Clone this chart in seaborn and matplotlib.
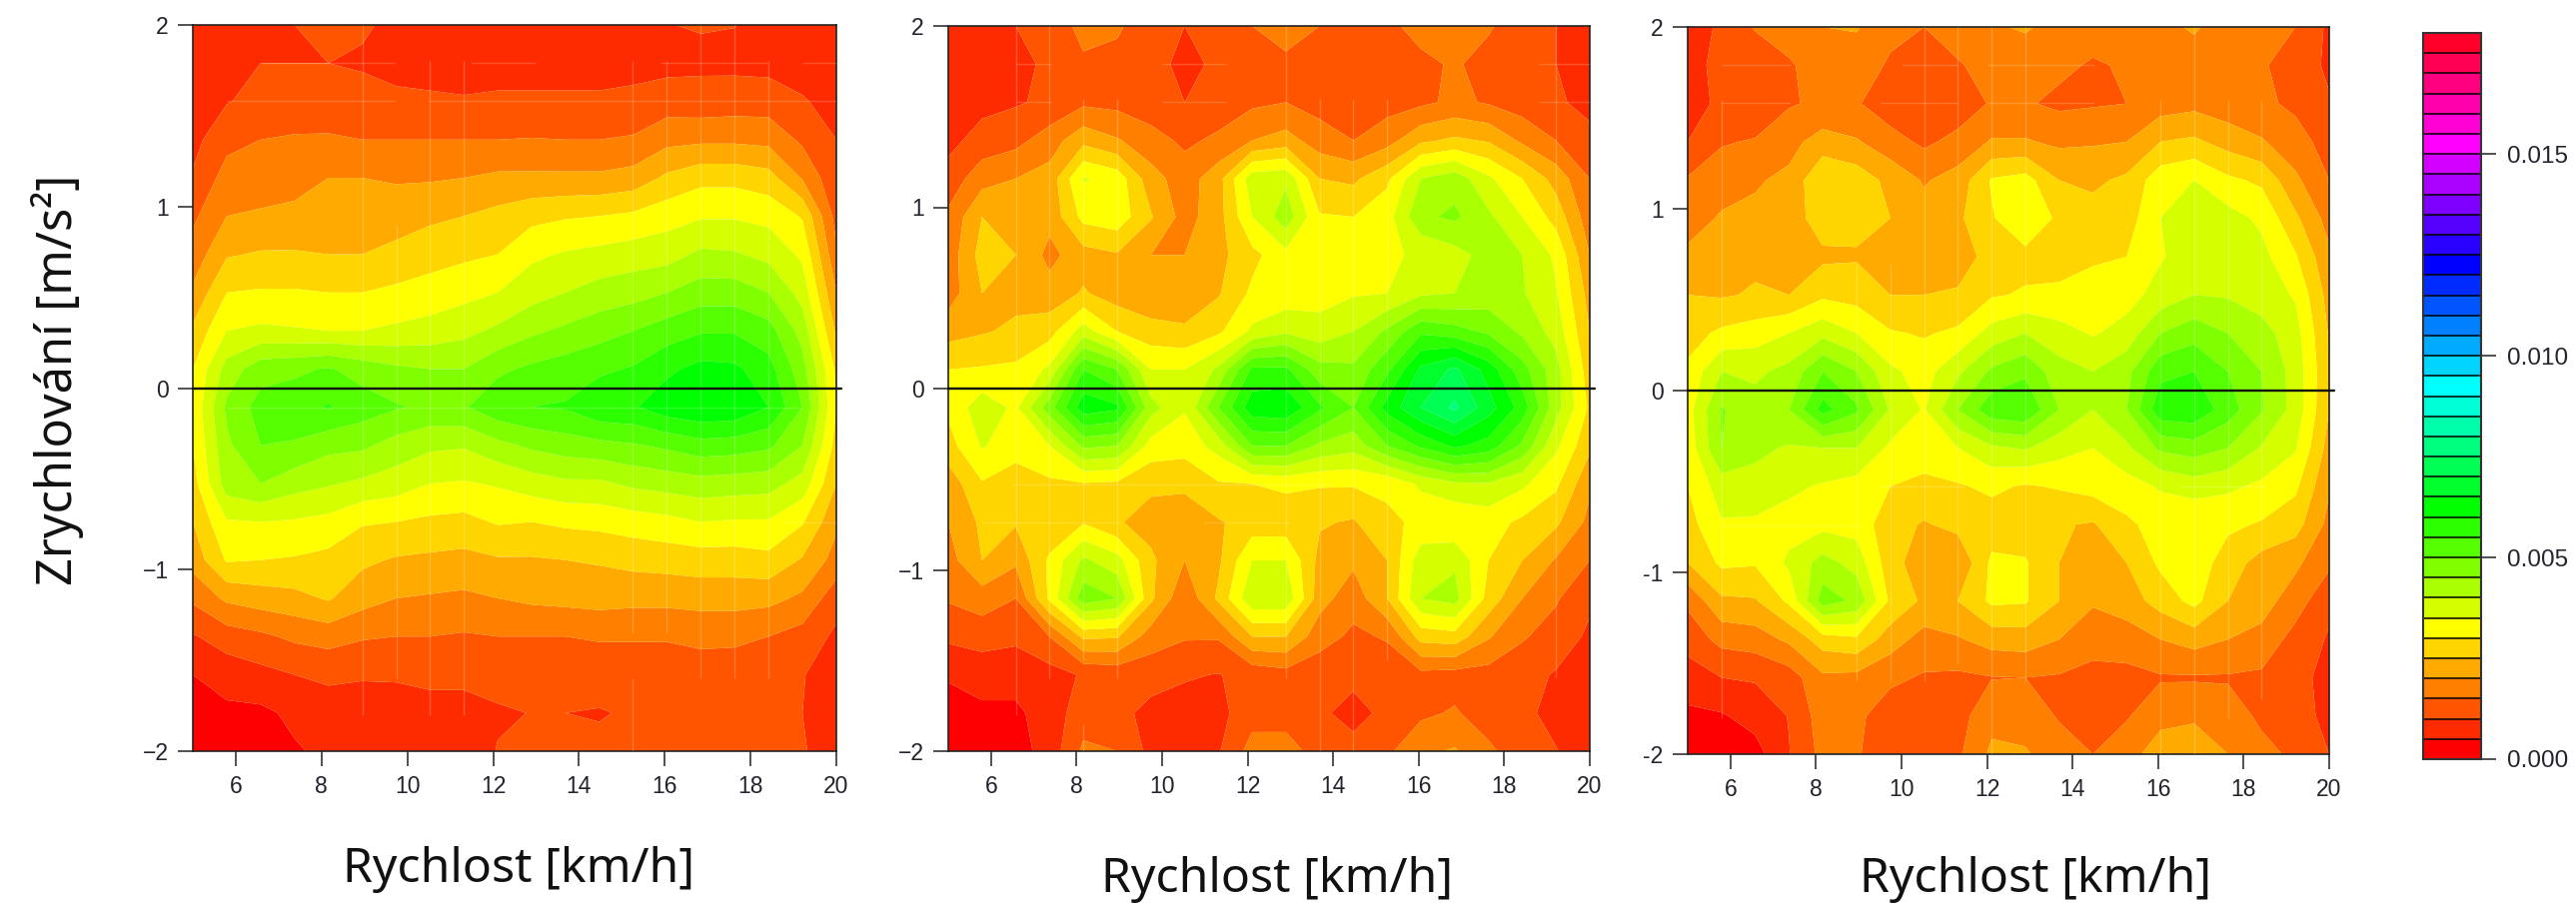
import numpy as np
import matplotlib
matplotlib.use("Agg")
import matplotlib.pyplot as plt
import seaborn as sns

sns.set_theme(style="ticks")
plt.rcParams["font.family"] = ["Liberation Sans", "DejaVu Sans"]

W, H = 2578, 906
speed = np.linspace(5, 20, 20)
accel = np.linspace(-2, 2, 20)

# values in units of 1e-3; each inner list is one row of constant acceleration, from +2 down to -2
density_1 = [
 [.7,.7,.8,1.0,1.1,1.06,.9,.8,.7,.7,.7,.7,.7,.8,.99,1.03,1.01,.85,.7,.6],
 [.6,.7,1.0,1.0,1.0,.94,.85,.8,.75,.75,.75,.75,.75,.8,.85,.9,.88,.85,.75,.6],
 [.7,.97,1.15,1.2,1.25,1.2,1.1,1.08,1.05,1.1,1.1,1.1,1.1,1.15,1.25,1.2,1.25,1.25,1.05,.8],
 [.85,1.35,1.5,1.55,1.55,1.5,1.5,1.5,1.5,1.5,1.52,1.5,1.5,1.55,1.85,1.9,1.9,1.85,1.4,1.0],
 [1.05,1.7,1.8,1.85,2.0,2.0,1.95,1.95,2.0,2.1,2.1,2.1,2.1,2.2,2.6,2.85,2.85,2.7,1.95,1.1],
 [1.4,2.0,2.05,2.1,2.2,2.25,2.25,2.4,2.5,2.65,2.85,2.95,3.0,3.1,3.3,3.45,3.45,3.35,2.95,1.3],
 [1.7,2.45,2.55,2.55,2.5,2.5,2.65,2.8,2.9,3.0,3.4,3.55,3.65,3.75,3.8,4.1,4.05,3.85,3.4,1.6],
 [2.1,3.0,3.05,3.05,3.0,3.0,3.1,3.2,3.35,3.5,3.8,4.0,4.2,4.3,4.5,4.75,4.75,4.5,3.8,2.0],
 [2.6,3.5,3.6,3.55,3.5,3.5,3.6,3.7,3.85,4.1,4.4,4.6,4.8,5.0,5.25,5.45,5.45,5.2,4.3,2.4],
 [3.0,4.2,4.8,4.9,5.05,4.8,4.6,4.5,4.5,4.9,5.1,5.25,5.4,5.55,5.9,6.15,6.1,5.7,4.7,2.9],
 [3.1,4.6,5.2,5.3,5.55,5.25,5.05,4.9,4.95,5.35,5.5,5.55,5.9,5.95,6.3,6.45,6.4,6.0,5.0,3.0],
 [3.0,4.4,5.0,4.95,4.65,4.6,4.3,4.1,4.05,4.35,4.6,4.75,4.85,4.95,5.1,5.3,5.25,5.1,4.5,2.8],
 [2.8,4.25,4.5,4.2,4.05,3.9,3.75,3.5,3.45,3.55,3.75,3.9,3.9,4.1,4.2,4.3,4.25,4.2,3.8,2.5],
 [2.5,3.45,3.5,3.45,3.35,3.05,3.0,2.9,2.85,3.05,3.0,3.1,3.15,3.25,3.35,3.5,3.45,3.45,3.05,2.1],
 [2.2,3.05,3.0,2.95,2.85,2.6,2.45,2.4,2.35,2.45,2.45,2.5,2.55,2.65,2.7,2.75,2.75,2.85,2.45,1.8],
 [1.6,2.1,2.25,2.35,2.55,2.2,2.0,1.95,1.9,2.0,2.1,2.15,2.2,2.15,2.15,2.2,2.2,2.15,1.9,1.2],
 [.95,1.25,1.4,1.6,1.7,1.55,1.5,1.5,1.45,1.5,1.5,1.5,1.55,1.55,1.55,1.6,1.6,1.5,1.3,.9],
 [.5,.7,.85,1.0,1.1,1.05,1.05,1.1,1.1,1.15,1.15,1.15,1.2,1.2,1.2,1.3,1.25,1.2,1.02,.8],
 [.3,.4,.4,.6,.75,.75,.8,.85,.85,.95,1.01,1.0,.97,1.05,1.1,1.2,1.15,1.05,1.0,.7],
 [.3,.3,.3,.45,.6,.65,.7,.75,.75,1.02,1.1,1.1,1.1,1.1,1.15,1.2,1.15,1.1,1.05,.7],
]

# units of 1e-3; each inner list is one column of constant speed, acceleration from +2 down to -2
density_2 = [
 [.8,.7,.7,.85,1.2,1.6,1.7,1.75,2.3,3.0,3.1,2.8,2.2,2.0,1.8,1.55,1.1,.55,.3,.3],
 [.8,.75,.85,1.2,1.8,2.5,2.7,2.5,2.45,3.05,3.8,3.55,2.95,2.6,2.5,1.75,1.2,.7,.4,.3],
 [1.0,.85,.95,1.35,2.0,2.45,2.5,2.35,2.6,3.1,3.4,3.2,2.75,2.55,2.1,1.5,1.1,.7,.4,.3],
 [1.3,1.1,1.1,1.75,2.2,2.15,1.85,2.2,2.8,3.6,4.8,3.5,2.9,2.55,3.1,3.1,1.5,.8,.75,.7],
 [1.6,1.45,1.4,2.35,3.55,3.15,2.3,2.55,3.75,5.5,6.3,4.6,2.95,2.95,4.1,4.8,2.6,1.05,1.25,1.6],
 [1.55,1.4,1.35,2.05,3.3,3.3,2.45,2.25,3.0,5.0,6.1,4.5,2.9,2.55,3.7,4.5,2.55,1.15,1.15,1.5],
 [1.3,1.2,1.2,1.7,2.2,2.55,2.0,2.1,2.7,3.5,4.2,3.3,2.6,2.3,2.6,2.6,1.75,1.2,.85,.85],
 [1.0,.85,1.0,1.4,1.75,1.8,2.0,2.1,2.6,3.5,3.55,3.2,2.6,2.2,2.0,1.6,1.55,1.05,.8,.8],
 [1.2,1.1,1.2,1.6,2.3,2.3,2.35,2.45,2.9,4.1,5.0,3.7,2.95,2.45,2.4,2.6,1.55,.98,.85,.95],
 [1.5,1.3,1.4,2.0,3.8,3.5,2.85,3.1,3.6,5.6,6.3,5.0,3.0,2.7,3.5,3.9,2.5,1.15,1.3,1.7],
 [1.6,1.45,1.5,2.2,3.9,4.3,3.35,3.2,3.9,5.6,6.4,5.0,3.1,2.7,3.5,3.9,2.5,1.3,1.3,1.7],
 [1.5,1.3,1.3,1.75,2.5,3.05,3.4,3.3,3.7,4.7,5.6,4.4,3.05,2.55,2.35,2.2,1.7,1.2,1.1,1.3],
 [1.3,1.2,1.15,1.5,2.4,3.0,3.4,3.45,4.0,4.6,5.0,4.2,3.05,2.45,2.1,1.7,1.4,1.15,.8,1.2],
 [1.4,1.25,1.3,1.8,2.9,3.3,3.45,3.5,4.6,5.4,6.2,5.0,3.1,2.9,2.5,2.5,1.55,1.2,1.15,1.4],
 [1.65,1.4,1.4,2.4,4.0,4.4,3.55,3.9,5.4,6.6,7.0,5.6,3.6,3.1,3.8,4.0,2.7,1.35,1.4,1.9],
 [1.7,1.55,1.6,2.6,4.3,4.6,3.8,4.0,5.2,7.1,7.6,6.1,3.9,3.05,3.9,4.2,2.8,1.3,1.55,2.05],
 [1.55,1.35,1.45,2.45,3.6,4.1,4.2,4.2,4.9,6.3,6.7,5.8,3.95,3.2,3.0,2.8,2.05,1.3,1.25,1.6],
 [1.25,1.15,1.25,1.9,3.0,3.5,4.0,4.05,4.4,5.2,5.8,4.9,3.6,2.9,2.5,2.0,1.55,1.2,1.15,1.2],
 [1.0,1.0,1.05,1.5,2.3,2.8,3.4,3.55,3.8,4.2,4.2,3.6,3.1,2.6,1.95,1.55,1.3,.95,.8,1.03],
 [.8,.8,.9,1.1,1.5,1.7,2.0,2.3,2.5,2.7,2.9,2.6,2.1,1.85,1.5,1.1,.9,.6,.6,.6],
]

density_3 = [
 [.7,.75,.8,1.0,1.55,1.8,2.1,2.5,2.8,3.1,3.3,3.2,3.0,2.8,2.5,1.6,1.2,.75,.4,.3],
 [1.1,1.2,1.1,1.45,1.8,2.05,2.3,2.45,3.1,4.0,4.55,4.5,3.75,3.45,3.1,2.4,1.65,1.0,.45,.2],
 [1.55,1.1,1.05,1.55,1.95,2.1,2.4,2.55,3.25,3.9,4.2,4.1,3.85,3.4,3.05,2.45,1.75,1.05,.7,.3],
 [1.7,1.45,1.45,1.85,2.1,2.25,2.4,2.5,3.5,4.15,4.5,3.95,3.6,3.3,3.6,3.1,2.1,1.25,1.02,.98],
 [2.0,1.7,1.6,2.2,3.0,2.75,2.4,2.9,3.85,5.0,5.7,4.0,3.45,3.35,4.2,4.75,2.75,1.9,1.75,1.65],
 [2.05,1.7,1.55,2.05,2.8,2.65,2.45,2.8,3.5,4.5,5.1,4.0,3.3,3.3,3.8,4.4,2.9,1.85,1.6,1.55],
 [1.6,1.45,1.2,1.7,2.35,2.5,2.35,2.5,3.05,3.6,3.95,3.4,3.0,2.7,2.7,2.9,2.25,1.6,1.25,1.2],
 [1.5,1.1,1.05,1.4,1.95,2.2,2.2,2.5,2.95,3.3,3.45,3.2,2.9,2.45,2.2,2.4,1.8,1.45,1.3,1.25],
 [1.75,1.45,1.2,1.65,2.2,2.4,2.3,2.55,3.1,3.9,4.5,3.5,2.95,2.65,2.05,2.5,1.95,1.4,1.3,1.4],
 [1.95,1.7,1.55,2.05,3.05,2.95,2.65,2.95,3.7,4.6,5.35,3.9,3.1,2.75,3.1,3.1,2.2,1.48,1.85,2.1],
 [2.05,1.75,1.55,2.05,3.2,3.4,2.85,3.05,4.0,4.9,5.45,4.05,2.95,2.7,3.05,3.05,2.25,1.5,1.8,2.05],
 [1.85,1.6,1.4,1.9,2.5,2.9,2.8,3.1,3.7,4.2,4.5,3.7,3.05,2.55,2.5,2.5,2.0,1.45,1.45,1.75],
 [1.7,1.45,1.45,1.95,2.4,2.7,2.9,3.3,3.45,4.0,4.0,3.5,3.2,2.45,2.4,2.05,1.75,1.3,1.15,1.5],
 [1.7,1.55,1.5,2.0,2.6,2.75,3.0,3.3,3.7,4.35,4.5,3.9,3.3,2.9,2.5,2.25,1.75,1.35,1.45,1.8],
 [1.9,1.7,1.75,2.5,3.3,3.5,3.45,3.7,4.5,5.35,5.85,4.6,3.55,3.2,3.1,2.7,2.0,1.45,1.85,2.25],
 [2.05,1.8,1.85,2.6,3.5,3.8,3.75,4.0,4.8,5.5,5.9,4.75,3.75,3.0,3.3,3.15,2.2,1.45,1.9,2.4],
 [1.8,1.65,1.7,2.3,3.1,3.7,3.75,3.95,4.5,5.0,5.25,4.5,3.6,3.1,2.75,2.5,2.0,1.45,1.75,2.0],
 [1.6,1.55,1.6,2.05,2.9,3.4,3.65,3.75,4.2,4.5,4.55,3.95,3.4,2.95,2.3,2.2,1.85,1.4,1.4,1.65],
 [1.5,1.3,1.4,1.7,2.1,2.6,3.05,3.45,3.7,3.8,3.8,3.55,3.1,2.7,2.1,1.75,1.3,1.2,1.15,1.4],
 [.9,.9,1.05,1.3,1.5,1.8,2.1,2.3,2.45,2.55,2.5,2.3,2.05,1.85,1.6,1.1,.95,.8,.9,1.0],
]

# faint seams left by the contour polygons: (speed, accel from, accel to) and (accel, speed from, speed to)
seams_v_1 = [(8.95, -1.8, 2), (9.74, -1.6, 0.9), (10.53, -1.8, 1.8), (11.32, -1.8, 1.8), (15.26, -1.35, 1.8),
             (15.26, -2, -1.6), (16.05, -1.35, 1.8), (16.84, -1.6, 2), (17.63, -1.6, 2), (18.42, -1.6, 1.8)]
seams_h_1 = [(1.79, 6.6, 9.7), (1.79, 11.5, 13.0), (1.79, 15.9, 18.4), (1.79, 19.2, 20), (1.58, 5.8, 9.7),
             (1.58, 10.5, 20), (-0.11, 5.8, 19.2), (-0.74, 18.8, 20)]
seams_v_2 = [(6.58, -1.8, 2), (7.37, -1.6, 2), (8.16, -1.5, 1.6), (8.16, -2, -1.85), (8.95, -1.6, 1.6),
             (12.89, -1.6, 2), (13.68, -2, 1.6), (14.47, -2, 1.6), (15.26, -1.5, 1.6), (19.21, -1.6, 2)]
seams_h_2 = [(1.79, 6.6, 7.4), (1.79, 10.0, 11.5), (1.79, 18.8, 20), (1.58, 6.6, 7.4), (1.58, 10.0, 11.5),
             (1.58, 18.8, 20), (-0.53, 6.5, 14.0), (-0.74, 5.8, 9.0), (-0.74, 11.0, 13.0)]
seams_v_3 = [(5.79, -1.8, 1.6), (8.95, -1.6, 0.7), (9.74, -1.6, 0.7), (10.53, -1.6, 2), (11.32, -1.5, 2),
             (12.11, -2, 2), (12.89, -1.6, 2), (16.05, -2, 1.6), (16.84, -2, 2), (17.63, -1.8, 1.6), (18.42, -1.7, 1.6)]
seams_h_3 = [(1.79, 5.8, 7.4), (1.79, 10.0, 11.3), (1.79, 12.0, 14.5), (1.58, 5.8, 7.4), (1.58, 9.5, 11.3),
             (1.58, 12.0, 14.5), (-0.53, 9.5, 11.5), (-0.53, 16.5, 18.5), (-0.74, 5.8, 9.0)]

x_ticks = [6, 8, 10, 12, 14, 16, 18, 20]
y_ticks = [-2, -1, 0, 1, 2]
y_labels_minus = ["\u22122", "\u22121", "0", "1", "2"]
y_labels_hyphen = ["-2", "-1", "0", "1", "2"]
levels = np.arange(0, 0.0185, 0.0005)
bar_ticks = [0.000, 0.005, 0.010, 0.015]
bar_labels = ["0.000", "0.005", "0.010", "0.015"]
xlabel = "Rychlost [km/h]"
ylabel = "Zrychlování [m/s²]"

colors = sns.hls_palette(36, h=0, l=0.5, s=1)
TEXT = "#23232e"
LABEL_FONT = ["Noto Sans", "DejaVu Sans"]

fig = plt.figure(figsize=(W / 100, H / 100), dpi=100, facecolor="white")


def px_axes(left, top, right, bottom):
    return fig.add_axes([left / W, 1 - bottom / H, (right - left) / W, (bottom - top) / H])


def surface(values, by_speed):
    z = np.array(values) * 1e-3
    if by_speed:
        z = z.T
    return z[::-1]


panels = [
    (surface(density_1, False), (193, 25, 837, 752), y_labels_minus, (519, 871), seams_v_1, seams_h_1),
    (surface(density_2, True), (949, 26, 1591, 752), y_labels_minus, (1278, 880), seams_v_2, seams_h_2),
    (surface(density_3, True), (1689, 27, 2331, 755), y_labels_hyphen, (2037, 880), seams_v_3, seams_h_3),
]

cs = None
for z, rect, ylabels, lab, sv, sh in panels:
    ax = px_axes(*rect)
    cs = ax.contourf(speed, accel, z, levels=levels, colors=colors, antialiased=True)
    for sx, a0, a1 in sv:
        ax.vlines(sx, a0, a1, color="white", alpha=0.22, lw=1.0, zorder=3)
    for sy, s0, s1 in sh:
        ax.hlines(sy, s0, s1, color="white", alpha=0.18, lw=1.0, zorder=3)
    ax.set_xlim(5, 20)
    ax.set_ylim(-2, 2)
    ax.set_xticks(x_ticks)
    ax.set_yticks(y_ticks)
    ax.set_yticklabels(ylabels)
    ax.tick_params(length=10.5, width=1.1, color="#222222", labelsize=16.5, labelcolor=TEXT, pad=7)
    for s in ax.spines.values():
        s.set_linewidth(1.2)
        s.set_color("#222222")
    ax.axhline(0, 0, 1.008, color="#111111", lw=1.7, clip_on=False, zorder=5)
    fig.text(lab[0] / W, 1 - lab[1] / H, xlabel, ha="center", va="center", fontsize=34.7,
             family=LABEL_FONT, color="#111111")

fig.text(58 / W, 1 - 380 / H, ylabel, ha="center", va="center", rotation=90, fontsize=35,
         family=LABEL_FONT, color="#111111")

cax = px_axes(2425, 33, 2483, 760)
cb = fig.colorbar(cs, cax=cax, drawedges=True, ticks=bar_ticks)
cb.ax.set_yticklabels(bar_labels)
cb.ax.tick_params(length=10.5, width=1.1, color="#222222", labelsize=17.5, labelcolor=TEXT, pad=8, which="major")
cb.ax.minorticks_off()
cb.dividers.set_color("black")
cb.dividers.set_linewidth(1.1)
cb.outline.set_edgecolor("#333333")
cb.outline.set_linewidth(1.5)

fig.savefig("out.png", dpi=100, facecolor="white")
